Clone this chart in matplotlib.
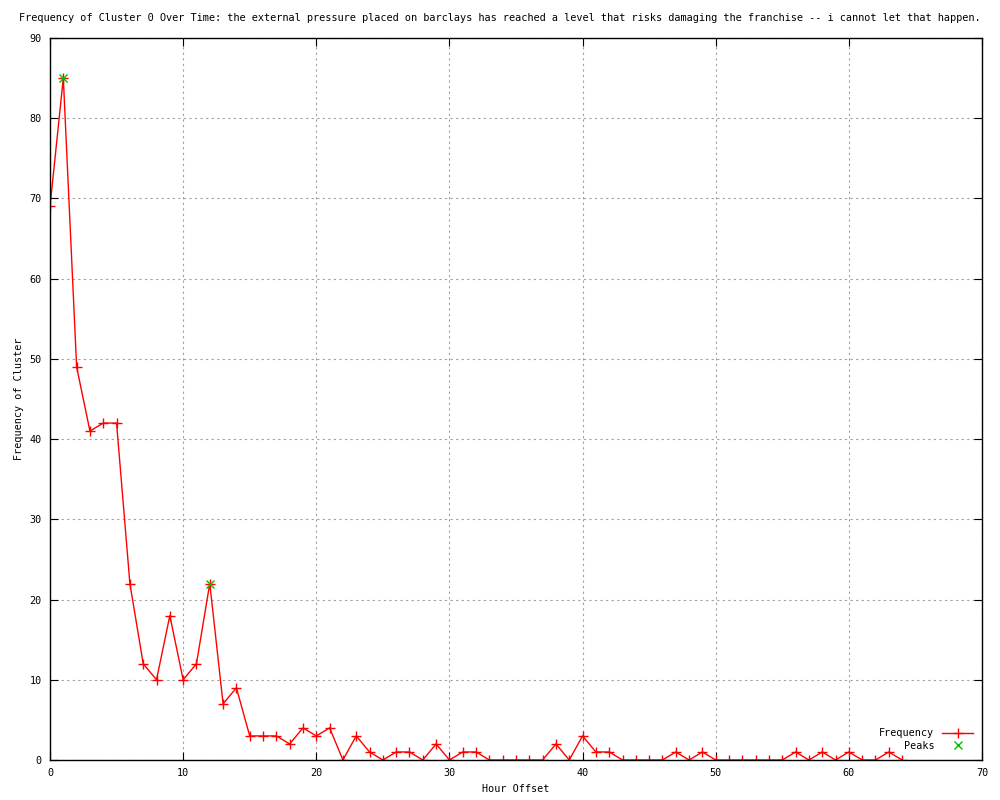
import matplotlib
matplotlib.use("Agg")
import matplotlib.pyplot as plt

hours = list(range(65))
freq = [69, 85, 49, 41, 42, 42, 22, 12, 10, 18, 10, 12, 22, 7, 9, 3, 3, 3, 2, 4,
        3, 4, 0, 3, 1, 0, 1, 1, 0, 2, 0, 1, 1, 0, 0, 0, 0, 0, 2, 0,
        3, 1, 1, 0, 0, 0, 0, 1, 0, 1, 0, 0, 0, 0, 0, 0, 1, 0, 1, 0,
        1, 0, 0, 1, 0]
peak_x = [1, 12]
peak_y = [85, 22]

title = ("Frequency of Cluster 0 Over Time: the external pressure placed on barclays "
         "has reached a level that risks damaging the franchise -- i cannot let that happen.")

plt.rcParams['font.family'] = ['DejaVu Sans Mono']
fig = plt.figure(figsize=(10, 8), dpi=100)
ax = fig.add_axes([0.050, 0.050, 0.932, 0.9025])

ax.plot(hours, freq, color='red', lw=1, marker='+', ms=7, mew=1, label='Frequency')
ax.plot(peak_x, peak_y, ls='none', color='#00c000', marker='x', ms=6, mew=1, label='Peaks')

ax.set_xlim(0, 70)
ax.set_ylim(0, 90)
ax.set_xticks(range(0, 71, 10))
ax.set_yticks(range(0, 91, 10))
ax.tick_params(direction='in', top=True, right=True, length=6, labelsize=7.3, pad=6)
ax.grid(True, color='#a0a0a0', ls=(0, (2, 3)), lw=0.8)
for s in ax.spines.values():
    s.set_linewidth(1)

ax.set_xlabel('Hour Offset', fontsize=7.3)
ax.set_ylabel('Frequency of Cluster', fontsize=7.3)
fig.text(0.5, 0.978, title, ha='center', va='center', fontsize=7.35)

leg = ax.legend(loc='lower right', frameon=False, fontsize=7.3, markerfirst=False,
                handlelength=3, borderaxespad=0.5, labelspacing=0.25)
for t in leg.get_texts():
    t.set_ha('right')

fig.savefig('out.png', dpi=100)
